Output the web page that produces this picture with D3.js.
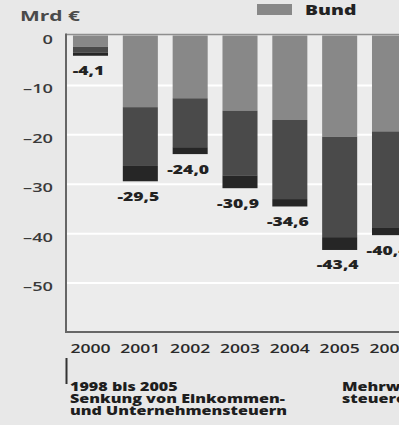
<!DOCTYPE html>
<html>
<head>
<meta charset="utf-8">
<script src="https://cdn.jsdelivr.net/npm/d3@7"></script>
<style>
  body { margin: 0; background: #e8e8e8; }
  svg { display: block; font-family: "Open Sans", "Noto Sans", sans-serif; }
</style>
</head>
<body>
<div id="chart"></div>
<script>
// Steuerausfälle in Mrd €, je Jahr: Bund / Länder / Gemeinden
let years     = ["2000", "2001", "2002", "2003", "2004", "2005", "2006"]
let bund      = [-2.3, -14.5, -12.7, -15.2, -17.1, -20.5, -19.4]
let laender   = [-1.2, -11.9,  -9.9, -13.1, -16.0, -20.3, -19.4]
let gemeinden = [-0.6,  -3.1,  -1.4,  -2.6,  -1.5,  -2.6,  -1.6]
let totals    = [-4.1, -29.5, -24.0, -30.9, -34.6, -43.4, -40.4]
let yTicks    = [0, -10, -20, -30, -40, -50]
let seriesKeys  = ["bund", "laender", "gemeinden"]
let legendLabel = "Bund"
let noteLeft  = ["1998 bis 2005", "Senkung von Einkommen-", "und Unternehmensteuern"]
let noteRight = ["Mehrwert-", "steuererhöhung"]

let width = 399, height = 425
let sx = 1.35   // the lettering in the picture is set wide

let colors = {bund: "#888888", laender: "#4a4a4a", gemeinden: "#262626"}

let table = years.map(function(yr, i) {
  return {year: yr, bund: bund[i], laender: laender[i], gemeinden: gemeinden[i], total: totals[i]}
})

let de = d3.formatLocale({decimal: ",", thousands: ".", grouping: [3], currency: ["", " €"], minus: "-"})
let deTick = d3.formatLocale({decimal: ",", thousands: ".", grouping: [3], currency: ["", " €"], minus: "–"})
let fmtValue = de.format(".1f")
let fmtTick = deTick.format("d")

let svg = d3.select("#chart").append("svg")
            .attr("width", width)
            .attr("height", height)

// scales
let x = d3.scaleBand()
          .domain(years)
          .range([66, 414])
          .paddingInner(0.297)
          .paddingOuter(0.14)

let y = d3.scaleLinear()
          .domain([-60, 0])
          .range([332, 35.5])

// plot background
svg.append("rect")
   .attr("x", 66).attr("y", y(0))
   .attr("width", width - 66).attr("height", y(-60) - y(0))
   .attr("fill", "#ececec")

// white gridlines
let grid = svg.append("g")
              .attr("transform", "translate(66,0)")
              .call(d3.axisRight(y).tickValues(yTicks.slice(1)).tickSize(width - 66).tickFormat(""))
grid.select(".domain").remove()
grid.selectAll("line").attr("stroke", "#ffffff").attr("stroke-width", 2)

// stacked bars
let stack = d3.stack().keys(seriesKeys).offset(d3.stackOffsetDiverging)
let layers = stack(table)

svg.append("g")
   .selectAll("g")
   .data(layers)
   .join("g")
   .attr("fill", function(d) { return colors[d.key] })
   .selectAll("rect")
   .data(function(d) { return d })
   .join("rect")
   .attr("x", function(d) { return x(d.data.year) })
   .attr("y", function(d) { return y(d[1]) })
   .attr("width", x.bandwidth())
   .attr("height", function(d) { return y(d[0]) - y(d[1]) })

// frame: zero line on top, axis lines left and bottom
svg.append("line")
   .attr("x1", 66).attr("x2", width)
   .attr("y1", y(0) - 1).attr("y2", y(0) - 1)
   .attr("stroke", "#8e8e8e").attr("stroke-width", 1.5)
svg.append("line")
   .attr("x1", 66).attr("x2", 66)
   .attr("y1", y(0) - 2).attr("y2", y(-60) + 1)
   .attr("stroke", "#666").attr("stroke-width", 2)
svg.append("line")
   .attr("x1", 65).attr("x2", width)
   .attr("y1", y(-60)).attr("y2", y(-60))
   .attr("stroke", "#666").attr("stroke-width", 2)

// value labels under the bars
svg.append("g")
   .selectAll("text")
   .data(table)
   .join("text")
   .attr("transform", function(d) {
     return `translate(${x(d.year) + x.bandwidth()/2 - 2},${y(d.total) + 19.5}) scale(${sx},1)`
   })
   .attr("text-anchor", "middle")
   .attr("font-size", 13)
   .attr("font-weight", 800)
   .attr("fill", "#222")
   .text(function(d) { return fmtValue(d.total) })

// y axis labels
let yAxis = svg.append("g")
               .attr("transform", "translate(53,0)")
               .call(d3.axisLeft(y).tickValues(yTicks).tickSize(0).tickFormat(fmtTick))
yAxis.select(".domain").remove()
yAxis.selectAll("text")
     .attr("x", 0)
     .attr("dy", 8)
     .attr("transform", `scale(1.4,1)`)
     .attr("font-size", 13)
     .attr("font-weight", 600)
     .attr("font-family", "Open Sans, sans-serif")
     .attr("fill", "#3a3a3a")

// x axis year labels
let xAxis = svg.append("g")
               .attr("transform", `translate(0,${y(-60)})`)
               .call(d3.axisBottom(x).tickSize(0))
xAxis.select(".domain").remove()
xAxis.selectAll("text")
     .attr("y", 21)
     .attr("dy", 0)
     .attr("transform", `scale(${sx},1)`)
     .attr("font-size", 13)
     .attr("font-weight", 600)
     .attr("font-family", "Open Sans, sans-serif")
     .attr("fill", "#2a2a2a")

// unit
svg.append("text")
   .attr("transform", `translate(20,21) scale(1.5,1)`)
   .attr("font-size", 14)
   .attr("font-weight", 700)
   .attr("fill", "#4a4a4a")
   .text("Mrd €")

// legend
svg.append("rect")
   .attr("x", 257).attr("y", 4)
   .attr("width", 35).attr("height", 11)
   .attr("fill", colors.bund)
svg.append("text")
   .attr("transform", `translate(305,15) scale(1.38,1)`)
   .attr("font-size", 14)
   .attr("font-weight", 800)
   .attr("fill", "#222")
   .text(legendLabel)

// notes under the axis
svg.append("line")
   .attr("x1", 66.5).attr("x2", 66.5)
   .attr("y1", 358).attr("y2", 384)
   .attr("stroke", "#333").attr("stroke-width", 2)

svg.append("g")
   .selectAll("text")
   .data(noteLeft)
   .join("text")
   .attr("transform", function(d, i) { return `translate(70,${391 + i*12.2}) scale(1.4,1)` })
   .attr("font-size", 11.5)
   .attr("font-weight", 800)
   .attr("fill", "#1e1e1e")
   .text(function(d) { return d })

svg.append("g")
   .selectAll("text")
   .data(noteRight)
   .join("text")
   .attr("transform", function(d, i) { return `translate(342,${391 + i*12.2}) scale(1.4,1)` })
   .attr("font-size", 11.5)
   .attr("font-weight", 800)
   .attr("fill", "#1e1e1e")
   .text(function(d) { return d })
</script>
</body>
</html>
